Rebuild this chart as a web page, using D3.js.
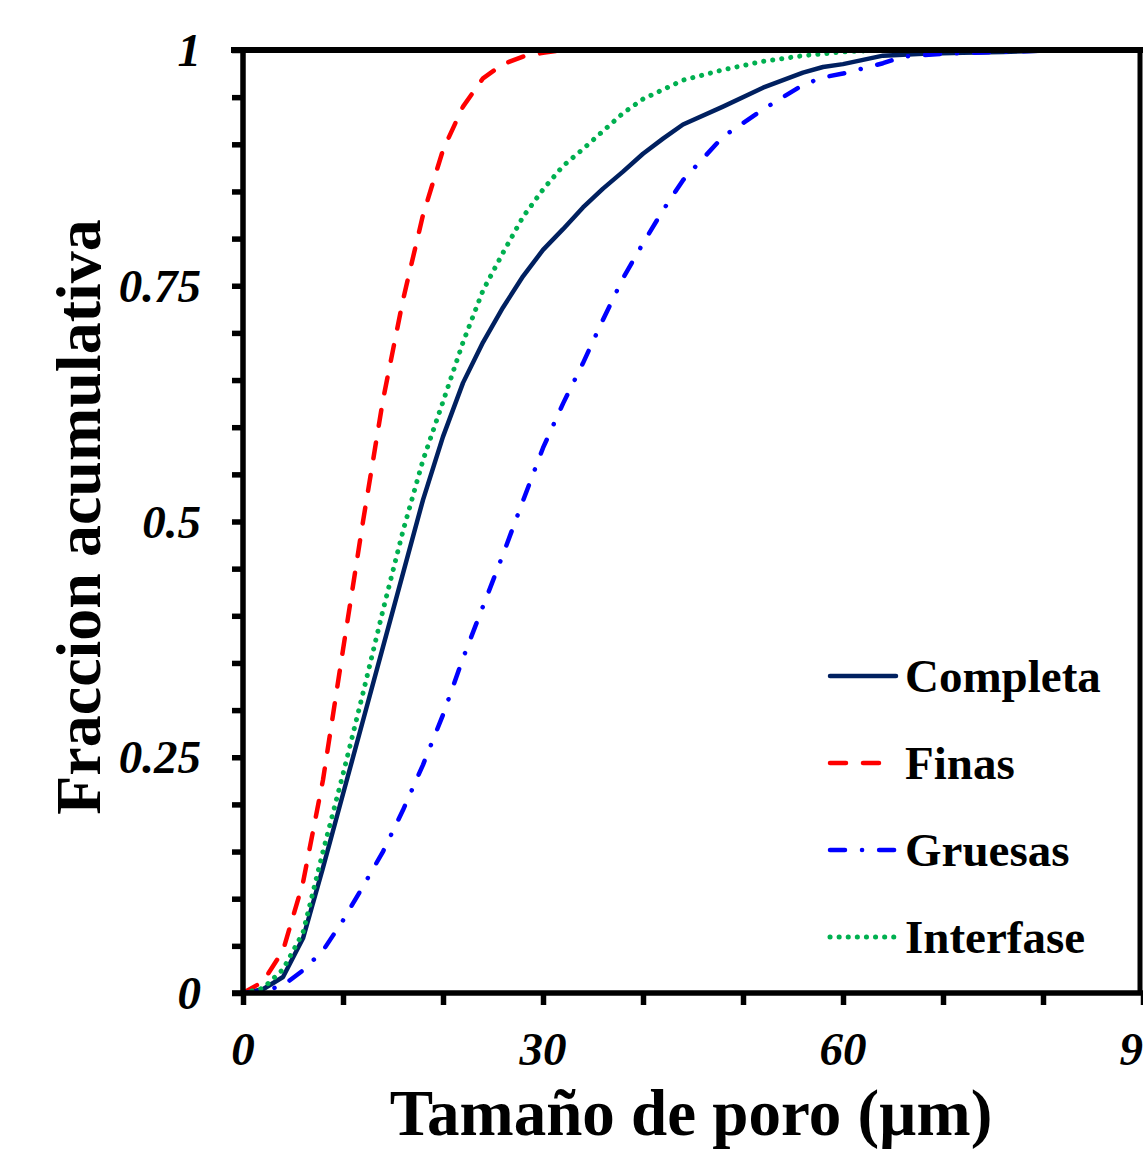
<!DOCTYPE html>
<html>
<head>
<meta charset="utf-8">
<script src="https://cdn.jsdelivr.net/npm/d3@7"></script>
<style>
  body { margin: 0; background: #fff; }
  svg { display: block; }
</style>
</head>
<body>
<div id="wrapper"></div>
<script>
// pore size (µm) and cumulative fraction
const completaX = [0, 2, 4, 6, 8, 10, 12, 14, 16, 18, 20, 22, 24, 26, 28, 30, 32, 34, 36, 38, 40, 42, 44, 48, 52, 56, 58, 60, 64, 68, 72, 76, 82]
const completaY = [0, 0.004, 0.017, 0.058, 0.133, 0.211, 0.289, 0.367, 0.445, 0.523, 0.59, 0.647, 0.69, 0.727, 0.76, 0.788, 0.81, 0.833, 0.853, 0.871, 0.89, 0.906, 0.921, 0.94, 0.96, 0.976, 0.982, 0.985, 0.994, 0.996, 0.997, 0.998, 1]

const finasX = [0, 2, 4, 6, 8, 10, 12, 14, 16, 18, 20, 22, 24, 26, 28, 30, 32, 33]
const finasY = [0, 0.012, 0.045, 0.117, 0.226, 0.364, 0.5, 0.629, 0.735, 0.825, 0.894, 0.94, 0.97, 0.985, 0.993, 0.997, 1, 1]

const gruesasX = [0, 2, 4, 6, 8, 10, 12, 14, 16, 18, 20, 22, 24, 26, 28, 30, 32, 34, 36, 38, 40, 42, 44, 48, 52, 56, 58, 60, 64, 66, 70, 76, 82]
const gruesasY = [0, 0.002, 0.008, 0.024, 0.045, 0.077, 0.113, 0.15, 0.194, 0.242, 0.295, 0.355, 0.41, 0.465, 0.522, 0.578, 0.625, 0.668, 0.714, 0.758, 0.795, 0.83, 0.862, 0.908, 0.937, 0.963, 0.971, 0.975, 0.986, 0.993, 0.996, 0.998, 1]

const interfaseX = [0, 2, 4, 6, 8, 10, 12, 14, 16, 18, 20, 22, 24, 26, 28, 30, 32, 34, 36, 38, 40, 44, 48, 52, 56, 60, 64, 66]
const interfaseY = [0, 0.005, 0.025, 0.064, 0.15, 0.232, 0.318, 0.406, 0.49, 0.565, 0.627, 0.69, 0.745, 0.785, 0.823, 0.852, 0.877, 0.895, 0.914, 0.933, 0.948, 0.968, 0.979, 0.988, 0.994, 0.998, 1, 1]

const seriesNames = ['Completa', 'Finas', 'Gruesas', 'Interfase']
const xTickLabels = [0, 30, 60, 90]
const yTickLabels = [0, 0.25, 0.5, 0.75, 1]

const series = [
  { name: seriesNames[0], xs: completaX, ys: completaY, color: '#002060', width: 4.5, dash: null },
  { name: seriesNames[1], xs: finasX, ys: finasY, color: '#ff0000', width: 4.5, dash: '16,17' },
  { name: seriesNames[2], xs: gruesasX, ys: gruesasY, color: '#0000ff', width: 4.5, dash: '15,17,0.1,17' },
  { name: seriesNames[3], xs: interfaseX, ys: interfaseY, color: '#00b050', width: 5, dash: '0.1,9' },
]

let dimensions = {
  width: 1143,
  height: 1153,
  margin: { top: 50, right: 0, bottom: 160, left: 243 },
}
dimensions.boundedWidth = dimensions.width - dimensions.margin.left - dimensions.margin.right
dimensions.boundedHeight = dimensions.height - dimensions.margin.top - dimensions.margin.bottom

const svg = d3.select('#wrapper')
  .append('svg')
  .attr('width', dimensions.width)
  .attr('height', dimensions.height)

const bounds = svg.append('g')
  .attr('transform', `translate(${dimensions.margin.left},${dimensions.margin.top})`)

const xScale = d3.scaleLinear().domain([0, 90]).range([0, dimensions.boundedWidth])
const yScale = d3.scaleLinear().domain([0, 1]).range([dimensions.boundedHeight, 0])

const font = "'Liberation Serif', 'Times New Roman', serif"

// lines
const lineGen = d3.line()
  .x(d => xScale(d[0]))
  .y(d => yScale(d[1]))

series.forEach(s => {
  bounds.append('path')
    .datum(s.xs.map((x, i) => [x, s.ys[i]]))
    .attr('d', lineGen)
    .attr('fill', 'none')
    .attr('stroke', s.color)
    .attr('stroke-width', s.width)
    .attr('stroke-linecap', 'round')
    .attr('stroke-linejoin', 'round')
    .attr('stroke-dasharray', s.dash)
})

// axes
const xAxis = bounds.append('g')
  .attr('transform', `translate(0,${dimensions.boundedHeight})`)
  .call(d3.axisBottom(xScale).tickValues(d3.range(0, 91, 10)).tickSize(12).tickSizeOuter(0).tickFormat(''))
const yAxis = bounds.append('g')
  .call(d3.axisLeft(yScale).tickValues(d3.range(0, 1.001, 0.05)).tickSize(11).tickSizeOuter(0).tickFormat(''))

;[xAxis, yAxis].forEach(a => {
  a.select('.domain').attr('stroke', '#000').attr('stroke-width', 5.5)
  a.selectAll('.tick line').attr('stroke', '#000').attr('stroke-width', 5.5)
})
yAxis.select('.domain').attr('d', `M0,${dimensions.boundedHeight + 2.75}V-2.75`)
xAxis.select('.domain').attr('d', `M-11,0H${dimensions.boundedWidth}`)

// top and right frame
bounds.append('line')
  .attr('x1', -12).attr('x2', dimensions.boundedWidth)
  .attr('y1', 0).attr('y2', 0)
  .attr('stroke', '#000').attr('stroke-width', 6)
bounds.append('line')
  .attr('x1', dimensions.boundedWidth - 3).attr('x2', dimensions.boundedWidth - 3)
  .attr('y1', 0).attr('y2', dimensions.boundedHeight)
  .attr('stroke', '#000').attr('stroke-width', 5)

// tick labels
bounds.selectAll('.xlab')
  .data(xTickLabels)
  .enter().append('text')
  .attr('x', d => xScale(d))
  .attr('y', dimensions.boundedHeight + 72)
  .attr('text-anchor', 'middle')
  .style('font-family', font)
  .style('font-size', '47px')
  .style('font-weight', 'bold')
  .style('font-style', 'italic')
  .text(d => d)

bounds.selectAll('.ylab')
  .data(yTickLabels)
  .enter().append('text')
  .attr('x', -42)
  .attr('y', d => yScale(d) + 16)
  .attr('text-anchor', 'end')
  .style('font-family', font)
  .style('font-size', '47px')
  .style('font-weight', 'bold')
  .style('font-style', 'italic')
  .text(d => d)

// axis titles
svg.append('text')
  .attr('x', dimensions.margin.left + dimensions.boundedWidth / 2 - 2)
  .attr('y', 1135)
  .attr('text-anchor', 'middle')
  .style('font-family', font)
  .style('font-size', '65px')
  .style('font-weight', 'bold')
  .text('Tamaño de poro (µm)')

svg.append('text')
  .attr('transform', `translate(100,${517}) rotate(-90)`)
  .attr('text-anchor', 'middle')
  .style('font-family', font)
  .style('font-size', '64px')
  .style('font-weight', 'bold')
  .text('Fraccion acumulativa')

// legend
const legend = svg.append('g').attr('transform', 'translate(828,676)')
series.forEach((s, i) => {
  const row = legend.append('g').attr('transform', `translate(0,${i * 87})`)
  row.append('line')
    .attr('x1', 2).attr('x2', 68)
    .attr('y1', 0).attr('y2', 0)
    .attr('stroke', s.color)
    .attr('stroke-width', s.width)
    .attr('stroke-linecap', 'round')
    .attr('stroke-dasharray', s.dash)
  row.append('text')
    .attr('x', 77)
    .attr('y', 16)
    .style('font-family', font)
    .style('font-size', '47px')
    .style('font-weight', 'bold')
    .text(s.name)
})
</script>
</body>
</html>
